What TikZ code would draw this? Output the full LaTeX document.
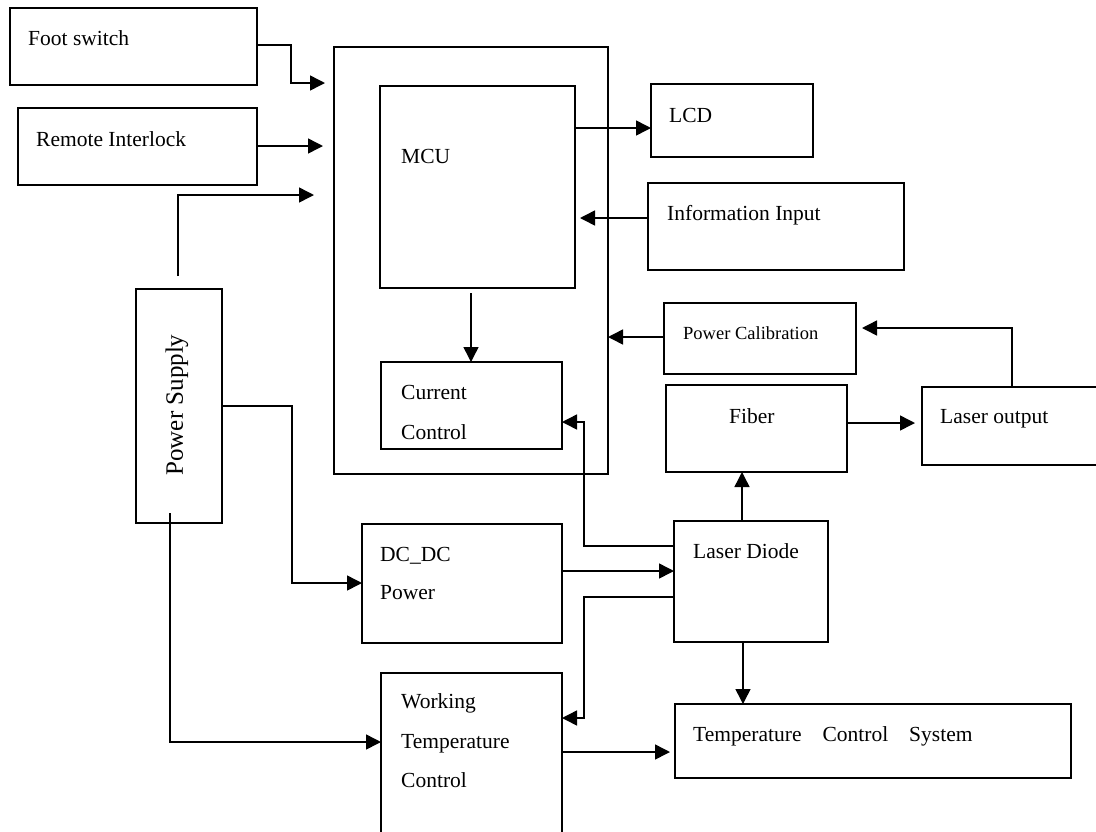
\documentclass[tikz,border=0pt]{standalone}
\usepackage{fontspec}
\setmainfont{Liberation Serif}
\usetikzlibrary{fit,arrows.meta}
\begin{document}
\begin{tikzpicture}[x=1pt,y=-1pt,
  box/.style={draw, line width=1.3pt, inner sep=0pt, outer sep=0pt},
  txt/.style={inner sep=0pt, anchor=base west, font=\fontsize{21.5}{26}\selectfont},
  arr/.style={line width=1.5pt, -{Triangle[length=15pt,width=15pt]}}]
\useasboundingbox (0,0) rectangle (1096,831);
\clip (0,0) rectangle (1096,831);
% boxes
\node[box, fit={(10,8) (257,85)}] (foot) {};
\node[box, fit={(18,108) (257,185)}] (remote) {};
\node[box, fit={(334,47) (608,474)}] (outer) {};
\node[box, fit={(380,86) (575,288)}] (mcu) {};
\node[box, fit={(381,362) (562,449)}] (cur) {};
\node[box, fit={(651,84) (813,157)}] (lcd) {};
\node[box, fit={(648,183) (904,270)}] (info) {};
\node[box, fit={(664,303) (856,374)}] (pc) {};
\node[box, fit={(666,385) (847,472)}] (fiber) {};
\node[box, fit={(922,387) (1102,465)}] (lo) {};
\node[box, fit={(674,521) (828,642)}] (ld) {};
\node[box, fit={(675,704) (1071,778)}] (tcs) {};
\node[box, fit={(362,524) (562,643)}] (dc) {};
\node[box, fit={(381,673) (562,845)}] (wt) {};
\node[box, fit={(136,289) (222,523)}] (ps) {};
% texts
\node[txt] (tfoot) at (28,45) {Foot switch};
\node[txt] (tremote) at (36,146) {Remote Interlock};
\node[txt] (tmcu) at (401,163) {MCU};
\node[txt] (tlcd) at (669,122) {LCD};
\node[txt] (tinfo) at (667,220) {Information Input};
\node[txt] (tcur1) at (401,399) {Current};
\node[txt] (tcur2) at (401,439) {Control};
\node[txt, font=\fontsize{18.5}{22}\selectfont] (tpc) at (683,339) {Power Calibration};
\node[txt] (tfiber) at (729,423) {Fiber};
\node[txt] (tlo) at (940,423) {Laser output};
\node[txt] (tld) at (693,558) {Laser Diode};
\node[txt] (ttcs) at (693,741) {Temperature\hspace*{21pt}Control\hspace*{21pt}System};
\node[txt] (tdc1) at (380,561) {DC\_DC};
\node[txt] (tdc2) at (380,599) {Power};
\node[txt] (twt1) at (401,708) {Working};
\node[txt] (twt2) at (401,748) {Temperature};
\node[txt] (twt3) at (401,787) {Control};
\node[inner sep=0pt, rotate=90, font=\fontsize{25}{30}\selectfont] (tps) at (177,405) {Power Supply};
% connector end coordinates
\coordinate (fsin) at (325,83);
\coordinate (riin) at (323,146);
\coordinate (pstop) at (178,276);
\coordinate (psin) at (314,195);
\coordinate (infoin) at (580,218);
\coordinate (mcuout) at (471,293);
\coordinate (pcin) at (862,328);
\coordinate (pswt) at (170,513);
% connectors
\draw[arr] (foot.east |- 0,45) -| (291,83) -- (fsin);
\draw[arr] (remote.east |- riin) -- (riin);
\draw[arr] (pstop) |- (psin);
\draw[arr] (mcu.east |- 0,128) -- (lcd.west |- 0,128);
\draw[arr] (info.west |- 0,218) -- (infoin);
\draw[arr] (mcuout) -- (cur.north -| mcuout);
\draw[arr] (pc.west |- 0,337) -- (outer.east |- 0,337);
\draw[arr, shorten >=7pt] (fiber.east |- 0,423) -- (lo.west |- 0,423);
\draw[arr] (lo.north -| 1012,0) |- (pcin);
\draw[arr] (ld.north -| 742,0) -- (fiber.south -| 742,0);
\draw[arr] (ld.south -| 743,0) -- (tcs.north -| 743,0);
\draw[arr] (dc.east |- 0,571) -- (ld.west |- 0,571);
\draw[arr] (ld.west |- 0,546) -| (584,422) -- (cur.east |- 0,422);
\draw[arr] (ld.west |- 0,597) -| (584,718) -- (wt.east |- 0,718);
\draw[arr, shorten >=5pt] (wt.east |- 0,752) -- (tcs.west |- 0,752);
\draw[arr] (ps.east |- 0,406) -| (292,583) -- (dc.west |- 0,583);
\draw[arr] (pswt) |- (wt.west |- 0,742);
\end{tikzpicture}
\end{document}
